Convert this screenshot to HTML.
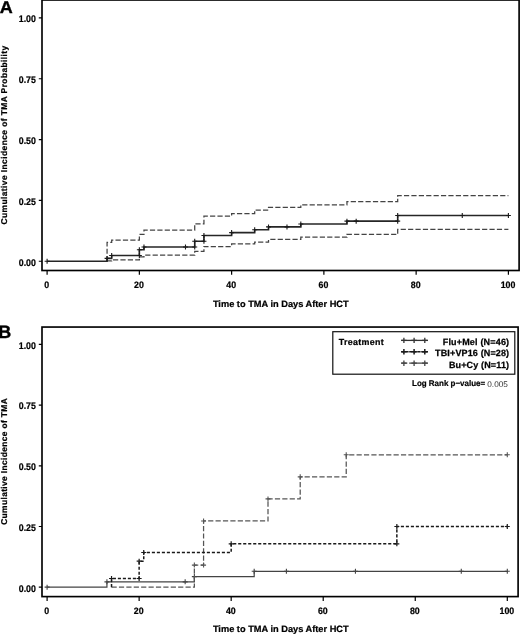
<!DOCTYPE html><html><head><meta charset="utf-8"><title>Cumulative Incidence of TMA</title>
<style>html,body{margin:0;padding:0;background:#fff}body{width:520px;height:635px;overflow:hidden}svg{display:block;will-change:transform}text{font-family:"Liberation Sans",Arial,sans-serif;fill:#000;text-rendering:geometricPrecision}.b{font-weight:bold}.t{font-size:8.8px;font-weight:bold;stroke:#000;stroke-width:.22px}</style></head><body>
<svg width="520" height="635" viewBox="0 0 520 635">
<rect width="520" height="635" fill="#fff"/>
<rect x="42.00" y="0.00" width="477.10" height="270.50" fill="none" stroke="#000" stroke-width="1.65"/>
<path d="M42.00 261.25 H38.80 M42.00 200.41 H38.80 M42.00 139.57 H38.80 M42.00 78.74 H38.80 M42.00 17.90 H38.80 M47.10 270.50 V274.80 M139.36 270.50 V274.80 M231.62 270.50 V274.80 M323.88 270.50 V274.80 M416.14 270.50 V274.80 M508.40 270.50 V274.80 " stroke="#000" stroke-width="1.2" fill="none"/>
<text class="t" x="18.80" y="265.60" textLength="17.1" lengthAdjust="spacingAndGlyphs" style="font-size:9.6px">0.00</text>
<text class="t" x="18.80" y="204.76" textLength="17.1" lengthAdjust="spacingAndGlyphs" style="font-size:9.6px">0.25</text>
<text class="t" x="18.80" y="143.92" textLength="17.1" lengthAdjust="spacingAndGlyphs" style="font-size:9.6px">0.50</text>
<text class="t" x="18.80" y="83.09" textLength="17.1" lengthAdjust="spacingAndGlyphs" style="font-size:9.6px">0.75</text>
<text class="t" x="18.80" y="22.25" textLength="17.1" lengthAdjust="spacingAndGlyphs" style="font-size:9.6px">1.00</text>
<text class="t" x="44.25" y="287.80" textLength="4.9" lengthAdjust="spacingAndGlyphs" style="font-size:9.3px">0</text>
<text class="t" x="134.06" y="287.80" textLength="9.8" lengthAdjust="spacingAndGlyphs" style="font-size:9.3px">20</text>
<text class="t" x="226.32" y="287.80" textLength="9.8" lengthAdjust="spacingAndGlyphs" style="font-size:9.3px">40</text>
<text class="t" x="318.58" y="287.80" textLength="9.8" lengthAdjust="spacingAndGlyphs" style="font-size:9.3px">60</text>
<text class="t" x="410.84" y="287.80" textLength="9.8" lengthAdjust="spacingAndGlyphs" style="font-size:9.3px">80</text>
<text class="t" x="500.65" y="287.80" textLength="14.7" lengthAdjust="spacingAndGlyphs" style="font-size:9.3px">100</text>
<text class="t" x="212.9" y="306.90" textLength="135.8" lengthAdjust="spacingAndGlyphs" style="font-size:9.2px">Time to TMA in Days After HCT</text>
<text class="t" style="font-size:8.45px" transform="translate(7.00 224.50) rotate(-90)" textLength="178.8" lengthAdjust="spacing">Cumulative Incidence of TMA Probability</text>
<text class="b" x="-0.20" y="13.00" font-size="17.2" textLength="13" lengthAdjust="spacingAndGlyphs" stroke="#000" stroke-width=".35">A</text>
<rect x="42.00" y="327.05" width="476.10" height="269.55" fill="none" stroke="#000" stroke-width="1.65"/>
<path d="M42.00 587.15 H38.80 M42.00 526.48 H38.80 M42.00 465.80 H38.80 M42.00 405.12 H38.80 M42.00 344.45 H38.80 M47.10 596.60 V600.90 M139.14 596.60 V600.90 M231.18 596.60 V600.90 M323.22 596.60 V600.90 M415.26 596.60 V600.90 M507.30 596.60 V600.90 " stroke="#000" stroke-width="1.2" fill="none"/>
<text class="t" x="18.80" y="591.50" textLength="17.1" lengthAdjust="spacingAndGlyphs" style="font-size:9.6px">0.00</text>
<text class="t" x="18.80" y="530.83" textLength="17.1" lengthAdjust="spacingAndGlyphs" style="font-size:9.6px">0.25</text>
<text class="t" x="18.80" y="470.15" textLength="17.1" lengthAdjust="spacingAndGlyphs" style="font-size:9.6px">0.50</text>
<text class="t" x="18.80" y="409.48" textLength="17.1" lengthAdjust="spacingAndGlyphs" style="font-size:9.6px">0.75</text>
<text class="t" x="18.80" y="348.80" textLength="17.1" lengthAdjust="spacingAndGlyphs" style="font-size:9.6px">1.00</text>
<text class="t" x="44.25" y="613.90" textLength="4.9" lengthAdjust="spacingAndGlyphs" style="font-size:9.3px">0</text>
<text class="t" x="133.84" y="613.90" textLength="9.8" lengthAdjust="spacingAndGlyphs" style="font-size:9.3px">20</text>
<text class="t" x="225.88" y="613.90" textLength="9.8" lengthAdjust="spacingAndGlyphs" style="font-size:9.3px">40</text>
<text class="t" x="317.92" y="613.90" textLength="9.8" lengthAdjust="spacingAndGlyphs" style="font-size:9.3px">60</text>
<text class="t" x="409.96" y="613.90" textLength="9.8" lengthAdjust="spacingAndGlyphs" style="font-size:9.3px">80</text>
<text class="t" x="499.55" y="613.90" textLength="14.7" lengthAdjust="spacingAndGlyphs" style="font-size:9.3px">100</text>
<text class="t" x="212.9" y="632.10" textLength="135.8" lengthAdjust="spacingAndGlyphs" style="font-size:9.2px">Time to TMA in Days After HCT</text>
<text class="t" style="font-size:8.45px" transform="translate(7.00 524.80) rotate(-90)" textLength="126.6" lengthAdjust="spacing">Cumulative Incidence of TMA</text>
<text class="b" x="-1.70" y="338.40" font-size="18.0" textLength="13" lengthAdjust="spacingAndGlyphs" stroke="#000" stroke-width=".35">B</text>
<path d="M107.07 261.25 H107.07 V242.27 H111.68 V240.08 H139.36 V234.48 H143.97 V230.10 H194.72 V223.77 H203.94 V216.23 H231.62 V213.55 H254.68 V210.00 H268.52 V207.47 H300.81 V204.79 H346.94 V201.51 H397.69 V195.55 H508.40" fill="none" stroke="#444" stroke-width="1.25" stroke-dasharray="5.2 2.2"/>
<path d="M107.07 261.25 H107.07 V260.76 H111.68 V259.79 H139.36 V256.87 H143.97 V255.00 H194.72 V251.27 H203.94 V246.50 H231.62 V243.97 H254.68 V242.10 H268.52 V239.47 H300.81 V237.16 H346.94 V234.48 H397.69 V229.25 H508.40" fill="none" stroke="#444" stroke-width="1.25" stroke-dasharray="5.2 2.2"/>
<path d="M47.10 261.25 H107.07 V258.39 H111.68 V255.52 H139.36 V249.80 H143.97 V246.94 H194.72 V241.21 H203.94 V235.48 H231.62 V232.62 H254.68 V229.76 H268.52 V226.89 H300.81 V224.03 H346.94 V221.17 H397.69 V215.44 H508.40" fill="none" stroke="#262626" stroke-width="1.6"/>
<path d="M47.10 258.75 V263.75 M44.60 261.25 H49.60 M107.07 255.89 V260.89 M104.57 258.39 H109.57 M111.68 253.02 V258.02 M109.18 255.52 H114.18 M139.36 247.30 V252.30 M136.86 249.80 H141.86 M143.97 244.44 V249.44 M141.47 246.94 H146.47 M185.49 244.44 V249.44 M182.99 246.94 H187.99 M194.72 238.71 V243.71 M192.22 241.21 H197.22 M203.94 232.98 V237.98 M201.44 235.48 H206.44 M231.62 230.12 V235.12 M229.12 232.62 H234.12 M254.68 227.26 V232.26 M252.18 229.76 H257.18 M268.52 224.39 V229.39 M266.02 226.89 H271.02 M286.98 224.39 V229.39 M284.48 226.89 H289.48 M300.81 221.53 V226.53 M298.31 224.03 H303.31 M346.94 218.67 V223.67 M344.44 221.17 H349.44 M356.17 218.67 V223.67 M353.67 221.17 H358.67 M397.69 212.94 V217.94 M395.19 215.44 H400.19 M462.27 212.94 V217.94 M459.77 215.44 H464.77 M508.40 212.94 V217.94 M505.90 215.44 H510.90 M139.36 253.02 V258.02 M136.86 255.52 H141.86 M194.72 244.44 V249.44 M192.22 246.94 H197.22 M203.94 238.71 V243.71 M201.44 241.21 H206.44 M397.69 218.67 V223.67 M395.19 221.17 H400.19 " fill="none" stroke="#1a1a1a" stroke-width="1.1"/>
<path d="M47.10 587.15 H106.93 V581.87 H194.36 V576.60 H254.19 V571.32 H507.30" fill="none" stroke="#444" stroke-width="1.2"/>
<path d="M47.10 584.65 V589.65 M44.60 587.15 H49.60 M106.93 579.37 V584.37 M104.43 581.87 H109.43 M185.16 579.37 V584.37 M182.66 581.87 H187.66 M194.36 574.10 V579.10 M191.86 576.60 H196.86 M254.19 568.82 V573.82 M251.69 571.32 H256.69 M286.40 568.82 V573.82 M283.90 571.32 H288.90 M355.43 568.82 V573.82 M352.93 571.32 H357.93 M461.28 568.82 V573.82 M458.78 571.32 H463.78 M507.30 568.82 V573.82 M504.80 571.32 H509.80 " fill="none" stroke="#444" stroke-width="1.1"/>
<path d="M111.53 587.15 H194.36 V565.09 H203.57 V520.96 H268.00 V498.90 H300.21 V476.83 H346.23 V454.77 H507.30" fill="none" stroke="#555" stroke-width="1.25" stroke-dasharray="5.2 2.2"/>
<path d="M194.36 562.59 V567.59 M191.86 565.09 H196.86 M203.57 518.46 V523.46 M201.07 520.96 H206.07 M268.00 496.40 V501.40 M265.50 498.90 H270.50 M300.21 474.33 V479.33 M297.71 476.83 H302.71 M346.23 452.27 V457.27 M343.73 454.77 H348.73 M507.30 452.27 V457.27 M504.80 454.77 H509.80 M203.57 562.59 V567.59 M201.07 565.09 H206.07 " fill="none" stroke="#555" stroke-width="1.1"/>
<path d="M111.53 587.15 H111.53 V578.48 H139.14 V561.15 H143.74 V552.48 H231.18 V543.81 H396.85 V526.48 H507.30" fill="none" stroke="#1a1a1a" stroke-width="1.5" stroke-dasharray="3.1 1.9"/>
<path d="M111.53 575.98 V580.98 M109.03 578.48 H114.03 M139.14 558.65 V563.65 M136.64 561.15 H141.64 M143.74 549.98 V554.98 M141.24 552.48 H146.24 M231.18 541.31 V546.31 M228.68 543.81 H233.68 M396.85 523.98 V528.98 M394.35 526.48 H399.35 M507.30 523.98 V528.98 M504.80 526.48 H509.80 M139.14 575.98 V580.98 M136.64 578.48 H141.64 M396.85 541.31 V546.31 M394.35 543.81 H399.35 " fill="none" stroke="#1a1a1a" stroke-width="1.2"/>
<rect x="332.8" y="331.7" width="182.0" height="42.5" fill="#fff" stroke="#111" stroke-width="1.2"/>
<text x="338.7" y="344.7" textLength="45" lengthAdjust="spacing" style="font-size:8.9px;stroke:#000;stroke-width:.2px" class="b">Treatment</text>
<path d="M401.2 340.40 H428.0" stroke="#333" stroke-width="1.30" fill="none"/>
<path d="M403.90 337.70 V343.10 M401.20 340.40 H406.60 M414.10 337.70 V343.10 M411.40 340.40 H416.80 M424.80 337.70 V343.10 M422.10 340.40 H427.50 " stroke="#333" stroke-width="1.30" fill="none"/>
<text x="442.70" y="344.70" textLength="66.4" lengthAdjust="spacing" style="font-size:9.0px;stroke:#000;stroke-width:.25px" class="b">Flu+Mel (N=46)</text>
<path d="M401.2 351.80 H428.0" stroke="#1a1a1a" stroke-width="1.50" fill="none" stroke-dasharray="3.4 0.6"/>
<path d="M403.90 349.10 V354.50 M401.20 351.80 H406.60 M414.10 349.10 V354.50 M411.40 351.80 H416.80 M424.80 349.10 V354.50 M422.10 351.80 H427.50 " stroke="#1a1a1a" stroke-width="1.50" fill="none"/>
<text x="435.10" y="356.10" textLength="74.0" lengthAdjust="spacing" style="font-size:9.0px;stroke:#000;stroke-width:.25px" class="b">TBI+VP16 (N=28)</text>
<path d="M401.2 363.20 H428.0" stroke="#444" stroke-width="1.30" fill="none" stroke-dasharray="6.1 1.9 30"/>
<path d="M403.90 360.50 V365.90 M401.20 363.20 H406.60 M414.10 360.50 V365.90 M411.40 363.20 H416.80 M424.80 360.50 V365.90 M422.10 363.20 H427.50 " stroke="#444" stroke-width="1.30" fill="none"/>
<text x="448.90" y="367.50" textLength="60.2" lengthAdjust="spacing" style="font-size:9.0px;stroke:#000;stroke-width:.25px" class="b">Bu+Cy (N=11)</text>
<text x="412" y="386.3" textLength="73.2" lengthAdjust="spacingAndGlyphs" style="font-size:8.2px;fill:#000;stroke:#000;stroke-width:.2px" class="b">Log Rank p−value=</text>
<text x="487.3" y="387.2" textLength="20.6" lengthAdjust="spacingAndGlyphs" style="font-size:8.2px;fill:#333">0.005</text>
</svg></body></html>
